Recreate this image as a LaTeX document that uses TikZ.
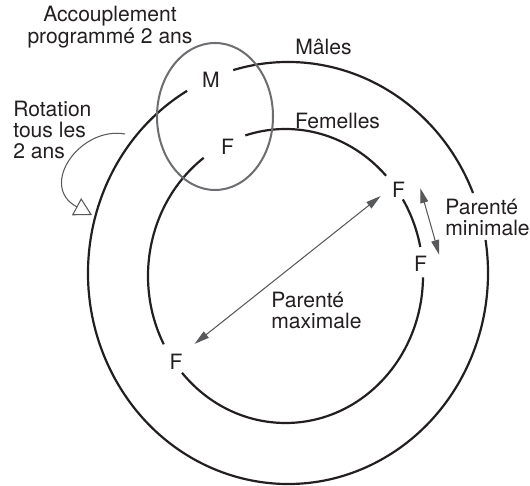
\documentclass[tikz,border=0pt]{standalone}
\usepackage{fontspec}
\setmainfont{TeX Gyre Heros}
\usepackage{tikz}
\usetikzlibrary{arrows.meta}
\definecolor{inkdark}{HTML}{231F20}
\definecolor{ringgray}{HTML}{6D6E71}
\definecolor{arrowgray}{HTML}{58595B}

\begin{document}
\begin{tikzpicture}[x=0.02cm, y=0.02cm,
  every node/.style={font=\fontsize{12}{12.2}\selectfont, text=inkdark, align=center},
  ring/.style={draw=inkdark, line width=1.25pt},
  pairing/.style={draw=ringgray, line width=1.15pt},
  sex/.style={inner sep=2pt},
  note/.style={inner sep=0pt, anchor=west, align=left},
  kin/.style={draw=arrowgray, line width=0.6pt, {Triangle[length=8.5pt,width=4.5pt]}-{Triangle[length=8.5pt,width=4.5pt]}},
  >=Latex]
  \useasboundingbox (0,0) rectangle (530,486);
  \coordinate (cM) at (288,213);
  \coordinate (cF) at (285.5,210);
  \coordinate (cP) at (215,369.5);

  % males (outer) and females (inner)
  \draw[ring] ([shift={(22.3:200 and 211)}]cM) arc[start angle=22.3, end angle=105.9, x radius=200, y radius=211];
  \draw[ring] ([shift={(120.3:200 and 211)}]cM) arc[start angle=120.3, end angle=369, x radius=200, y radius=211];
  \draw[ring] ([shift={(43:137.5 and 147)}]cF) arc[start angle=43, end angle=107, x radius=137.5, y radius=147];
  \draw[ring] ([shift={(11.4:137.5 and 147)}]cF) arc[start angle=11.4, end angle=31.4, x radius=137.5, y radius=147];
  \draw[ring] ([shift={(126.5:137.5 and 147)}]cF) arc[start angle=126.5, end angle=207.7, x radius=137.5, y radius=147];
  \draw[ring] ([shift={(221.2:137.5 and 147)}]cF) arc[start angle=221.2, end angle=359.5, x radius=137.5, y radius=147];
  \draw[pairing] (cP) ellipse[x radius=58, y radius=73.5];

  \node[sex] (m)  at (211,406.5) {M};
  \node[sex] (f1) at (227.5,339) {F};
  \node[sex] (f2) at (398.5,296) {F};
  \node[sex] (f3) at (420.5,222) {F};
  \node[sex] (f4) at (176,124) {F};

  \node (males)   at (323.5,439) {Mâles};
  \node (females) at (337.5,365.5) {Femelles};
  \node (pair)    at (110,459) {Accouplement\\programmé 2 ans};
  \node[note] (rot)    at (13,356) {Rotation\\tous les\\2 ans};
  \node[note] (kinmin) at (445,268.5) {Parenté\\minimale};
  \node[note] (kinmax) at (271,175.5) {Parenté\\maximale};

  \draw[kin, shorten <=6pt, shorten >=5.5pt] (f4.north east) -- (f2.west);
  \draw[kin] ([xshift=6.5pt,yshift=1.1pt]f2.east) -- ([xshift=4.8pt,yshift=-1.4pt]f3.north east);

  \coordinate (rotstart) at (125,352);
  \coordinate (rotend) at (92,271);
  \draw[draw=arrowgray, line width=0.6pt, -{Triangle[open, length=10pt, width=11pt]}]
    (rotstart) .. controls (80,360) and (38,300) .. (rotend);
\end{tikzpicture}
\end{document}
